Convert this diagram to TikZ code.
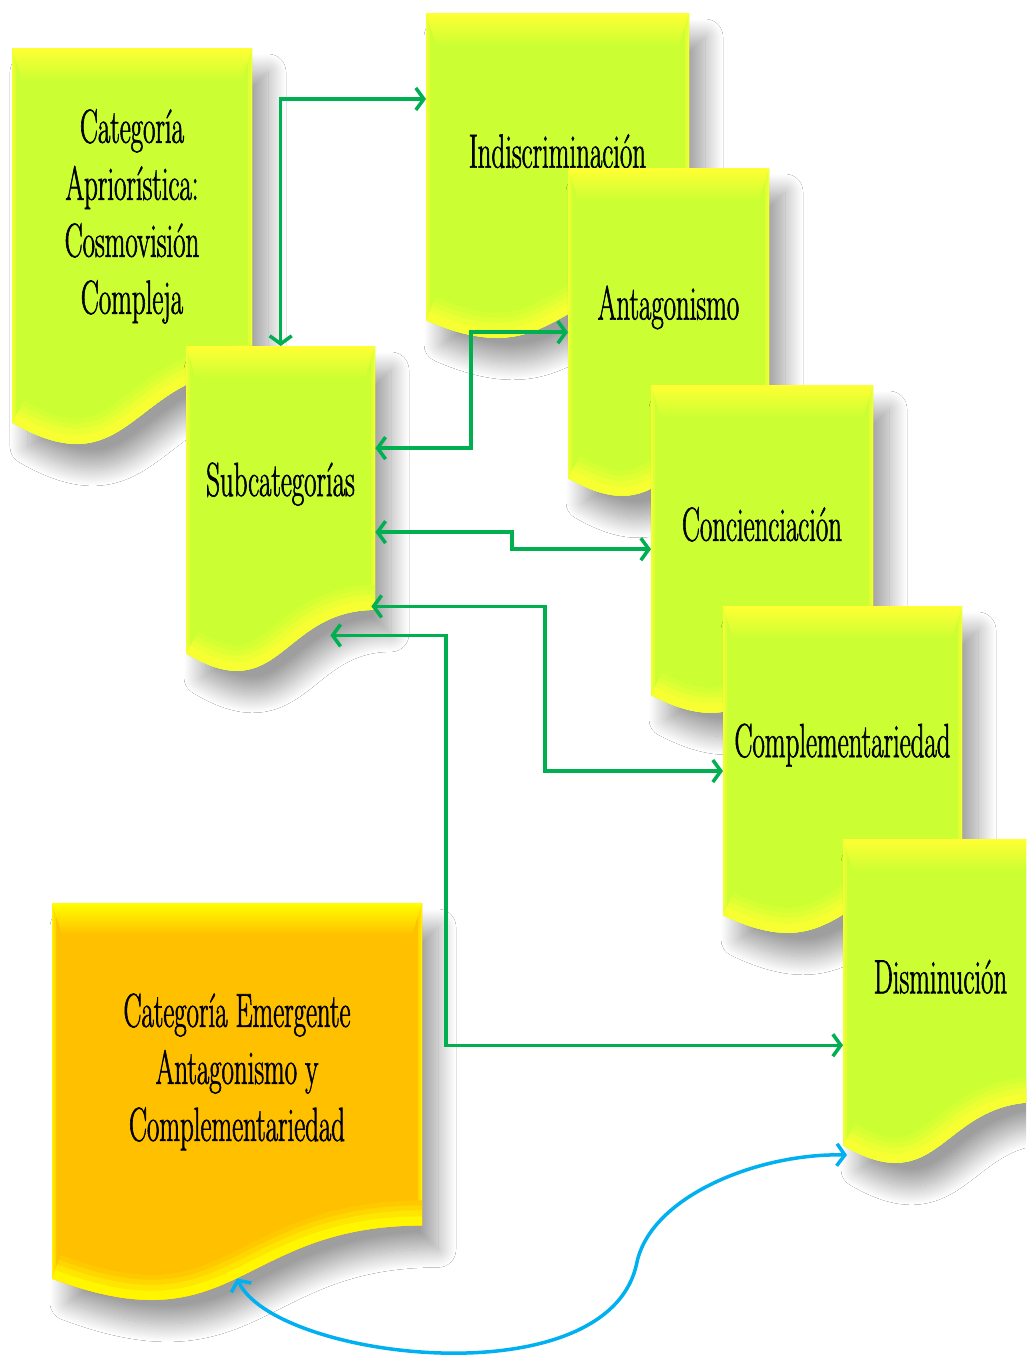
\documentclass[tikz,border=0pt]{standalone}
\usepackage{fontspec}
\setmainfont{Latin Modern Roman}[FakeStretch=0.56,FakeBold=1.2]
\usetikzlibrary{arrows.meta,calc,shadows.blur}
\definecolor{docLime}{HTML}{CCFF33}
\definecolor{docYel}{HTML}{FFFF33}
\definecolor{docOrange}{HTML}{FFC000}
\definecolor{docYel2}{HTML}{FFFF00}
\definecolor{lnGreen}{HTML}{00B050}
\definecolor{lnBlue}{HTML}{00B0F0}
\newcommand\docfont{\fontsize{48}{57}\selectfont}
\tikzset{
  docshadow/.style={blur shadow={shadow xshift=16pt, shadow yshift=-24pt, shadow blur radius=18pt, shadow blur steps=30, shadow opacity=38}},
  garrow/.style={draw=lnGreen, line width=3.5pt, line join=miter,
    arrows={Straight Barb[length=8pt,width=22pt]-Straight Barb[length=8pt,width=22pt]}},
  barrow/.style={draw=lnBlue, line width=3.5pt,
    arrows={Straight Barb[length=8pt,width=22pt]-Straight Barb[length=8pt,width=22pt]}},
  doctext/.style={font=\docfont, align=center, inner sep=0pt}
}
% #1 name, #2 x, #3 y, #4 w, #5 h, #6 fill, #7 bevel, #8 text
\newcommand\DocBox[8]{%
  \pgfmathsetmacro\dbXa{#2}%
  \pgfmathsetmacro\dbXb{#2+#4}%
  \pgfmathsetmacro\dbXm{#2+0.5*#4}%
  \pgfmathsetmacro\dbYa{#3}%
  \pgfmathsetmacro\dbYr{#3+0.802*#5}%
  \pgfmathsetmacro\dbYl{#3+0.934*#5}%
  \pgfmathsetmacro\dbYc{#3+1.107*#5}%
  \pgfmathsetmacro\dbYt{#3+0.42*#5}%
  \pgfmathsetmacro\dbYb{#3+32}%
  \pgfmathsetmacro\dbXc{#2+10}%
  \pgfmathsetmacro\dbXd{#2+#4-10}%
  \node[inner sep=0pt, minimum width=#4pt, minimum height=#5pt, anchor=north west] (#1) at (\dbXa,\dbYa) {};
  \fill[#6, docshadow] (\dbXa,\dbYa) -- (\dbXb,\dbYa) -- (\dbXb,\dbYr) .. controls (\dbXm,\dbYr) and (\dbXm,\dbYc) .. (\dbXa,\dbYl) -- cycle;
  \begin{scope}
    \clip (\dbXa,\dbYa) -- (\dbXb,\dbYa) -- (\dbXb,\dbYr) .. controls (\dbXm,\dbYr) and (\dbXm,\dbYc) .. (\dbXa,\dbYl) -- cycle;
    \draw[line width=8pt, #6!60!#7] (\dbXa,\dbYa) -- (\dbXb,\dbYa) -- (\dbXb,\dbYr) .. controls (\dbXm,\dbYr) and (\dbXm,\dbYc) .. (\dbXa,\dbYl) -- cycle;
    \draw[line width=3pt, #6!25!#7] (\dbXa,\dbYa) -- (\dbXb,\dbYa) -- (\dbXb,\dbYr) .. controls (\dbXm,\dbYr) and (\dbXm,\dbYc) .. (\dbXa,\dbYl) -- cycle;
    \shade[top color=#7, bottom color=#6] (\dbXa,\dbYa) -- (\dbXb,\dbYa) -- (\dbXd,\dbYb) -- (\dbXc,\dbYb) -- cycle;
    \draw[line width=50pt, #6!85!#7] (\dbXb,\dbYr) .. controls (\dbXm,\dbYr) and (\dbXm,\dbYc) .. (\dbXa,\dbYl);
    \draw[line width=40pt, #6!65!#7] (\dbXb,\dbYr) .. controls (\dbXm,\dbYr) and (\dbXm,\dbYc) .. (\dbXa,\dbYl);
    \draw[line width=30pt, #6!40!#7] (\dbXb,\dbYr) .. controls (\dbXm,\dbYr) and (\dbXm,\dbYc) .. (\dbXa,\dbYl);
    \draw[line width=18pt, #6!15!#7] (\dbXb,\dbYr) .. controls (\dbXm,\dbYr) and (\dbXm,\dbYc) .. (\dbXa,\dbYl);
  \end{scope}
  \node[doctext] (#1-t) at (\dbXm,\dbYt) {#8};
}
\begin{document}
\begin{tikzpicture}[x=1pt,y=-1pt]
\useasboundingbox (0,0) rectangle (1026,1355);
\fill[white] (0,0) rectangle (1026,1355);
\clip (0,0) rectangle (1026,1355);

\DocBox{apr}{12}{48}{240}{401}{docLime}{docYel}{Categoría\\Apriorística:\\Cosmovisión\\Compleja}
\DocBox{sub}{186}{346}{189}{329}{docLime}{docYel}{Subcategorías}
\DocBox{ind}{426}{13}{263}{329}{docLime}{docYel}{Indiscriminación}
\DocBox{ant}{568}{168}{201}{332}{docLime}{docYel}{Antagonismo}
\DocBox{con}{651}{385}{222}{332}{docLime}{docYel}{Concienciación}
\DocBox{com}{723}{606}{239}{331}{docLime}{docYel}{Complementariedad}
\DocBox{dis}{843}{839}{195}{328}{docLime}{docYel}{Disminución}
\DocBox{emg}{52}{903}{370}{402}{docOrange}{docYel2}{Categoría Emergente\\Antagonismo y\\Complementariedad}

% green connectors
\coordinate (a1e) at ($(ind.north west)!0.261!(ind.south west)$);
\draw[garrow] (sub.north) |- (a1e);

\coordinate (k2) at (471,0);
\coordinate (a2s) at ($(sub.north east)!0.31!(sub.south east)$);
\coordinate (a2e) at ($(ant.north west)!0.494!(ant.south west)$);
\draw[garrow] (a2s) -- (a2s -| k2) -- (a2e -| k2) -- (a2e);

\coordinate (k3) at (512,0);
\coordinate (a3s) at ($(sub.north east)!0.565!(sub.south east)$);
\coordinate (a3e) at ($(con.north west)!0.494!(con.south west)$);
\draw[garrow] (a3s) -- (a3s -| k3) -- (a3e -| k3) -- (a3e);

\coordinate (k4) at (545,0);
\coordinate (a4s) at ($(sub.south east)+(-4,-69)$);
\coordinate (a4e) at ($(com.north west)!0.498!(com.south west)$);
\draw[garrow] (a4s) -- (a4s -| k4) -- (a4e -| k4) -- (a4e);

\coordinate (k5) at (446,0);
\coordinate (a5s) at ($(sub.south east)+(-45,-40)$);
\coordinate (a5e) at ($(dis.north west)!0.628!(dis.south west)$);
\draw[garrow] (a5s) -- (a5s -| k5) -- (a5e -| k5) -- (a5e);

% blue connector
\coordinate (bs) at ($(emg.south west)+(185,-27)$);
\coordinate (bm) at (637,1262);
\coordinate (be) at ($(dis.north west)+(4,316)$);
\draw[barrow] (bs) .. controls (275,1360) and (610,1400) .. (bm) .. controls (652,1195) and (760,1153) .. (be);
\end{tikzpicture}
\end{document}
